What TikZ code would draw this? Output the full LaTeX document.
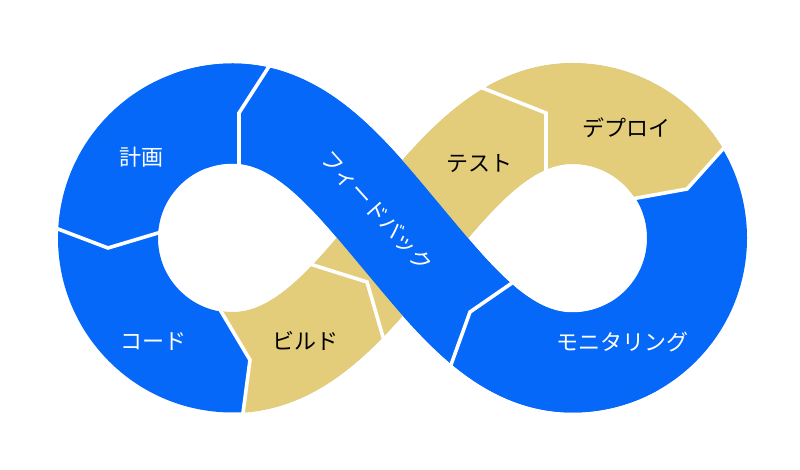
\documentclass[tikz,border=0pt]{standalone}
\usepackage{fontspec}
\setmainfont{Noto Sans CJK JP}
\usetikzlibrary{calc}
\definecolor{bandblue}{HTML}{0568F8}
\definecolor{bandgold}{HTML}{E3CD7B}
\begin{document}
\begin{tikzpicture}[x=1pt,y=1pt,
  band/.style={line width=100pt, line cap=butt, line join=round},
  cutline/.style={draw=white, line width=3.6pt, line cap=butt, line join=miter},
  lbl/.style={font=\fontsize{22}{26}\selectfont, inner sep=0pt}]
\useasboundingbox (0,0) rectangle (800,470);
\fill[white] (0,0) rectangle (800,470);
\coordinate (O) at (402.5,232);
\coordinate (CL) at (232.5,232);
\coordinate (CR) at (572.5,232);
\coordinate (TL) at (232.5,356.5);
\coordinate (BL) at (232.5,107.5);
\coordinate (TR) at (572.5,356.5);
\coordinate (BR) at (572.5,107.5);

% whole figure-eight band (blue)
\draw[band, draw=bandblue] (O) .. controls (351.1,293.3) and (302.5,356.5) .. (TL)
  arc[start angle=90, end angle=270, radius=124.5]
  .. controls (302.5,107.5) and (351.1,170.7) .. (O)
  .. controls (453.9,293.3) and (502.5,356.5) .. (TR)
  arc[start angle=90, end angle=-90, radius=124.5]
  .. controls (502.5,107.5) and (453.9,170.7) .. (O) -- cycle;

% gold band: build, test, deploy
\begin{scope}
\clip (243,0) -- (243,57) -- (250,110) -- (222,157) -- (191,210) -- (190,470)
  -- (800,470) -- (800,409) -- (722,320) -- (687,281) -- (637,272) -- (600,266) -- cycle;
\draw[band, line width=101pt, draw=bandgold] ($(CL)+(250:124.5)$)
  arc[start angle=250, end angle=270, radius=124.5]
  .. controls (302.5,107.5) and (351.1,170.7) .. (O)
  .. controls (453.9,293.3) and (502.5,356.5) .. (TR)
  arc[start angle=90, end angle=15, radius=124.5];
\end{scope}

% feedback band on top
\draw[band, draw=bandblue] ($(CR)+(-60:124.5)$)
  arc[start angle=-60, end angle=-90, radius=124.5]
  .. controls (502.5,107.5) and (453.9,170.7) .. (O)
  .. controls (351.1,293.3) and (302.5,356.5) .. (TL)
  arc[start angle=90, end angle=110, radius=124.5];

% segment cuts
\coordinate (c1o) at (58,241);  \coordinate (c1k) at (108,222); \coordinate (c1i) at (158,237);
\coordinate (c2o) at (268,402); \coordinate (c2k) at (239,357); \coordinate (c2i) at (239,306);
\coordinate (c3o) at (243,57);  \coordinate (c3k) at (250,110); \coordinate (c3i) at (222,157);
\coordinate (c4o) at (383,133); \coordinate (c4k) at (367,188); \coordinate (c4i) at (313,205);
\coordinate (c5o) at (485,381); \coordinate (c5k) at (546,357); \coordinate (c5i) at (546,297);
\coordinate (c6o) at (722,320); \coordinate (c6k) at (687,281); \coordinate (c6i) at (637,272);
\coordinate (c7o) at (452,108); \coordinate (c7k) at (470,158); \coordinate (c7i) at (512,187);
\foreach \c in {c1,c2,c3,c4,c5,c6,c7}{
  \draw[cutline] ($(\c k)!1.12!(\c o)$) -- (\c k) -- ($(\c k)!1.12!(\c i)$);
}

% labels
\node[lbl, text=white] (plan) at (141,313) {計画};
\node[lbl, text=white] (code) at (153,128) {コード};
\node[lbl, text=black] (build) at (305,129) {ビルド};
\node[lbl, text=black] (test) at (479,306) {テスト};
\node[lbl, text=black] (deploy) at (626,342) {デプロイ};
\node[lbl, text=white] (monitor) at (622,128) {モニタリング};
\node[lbl, text=white, rotate=-48] (feedback) at (377,259) {フィードバック};
\end{tikzpicture}
\end{document}
